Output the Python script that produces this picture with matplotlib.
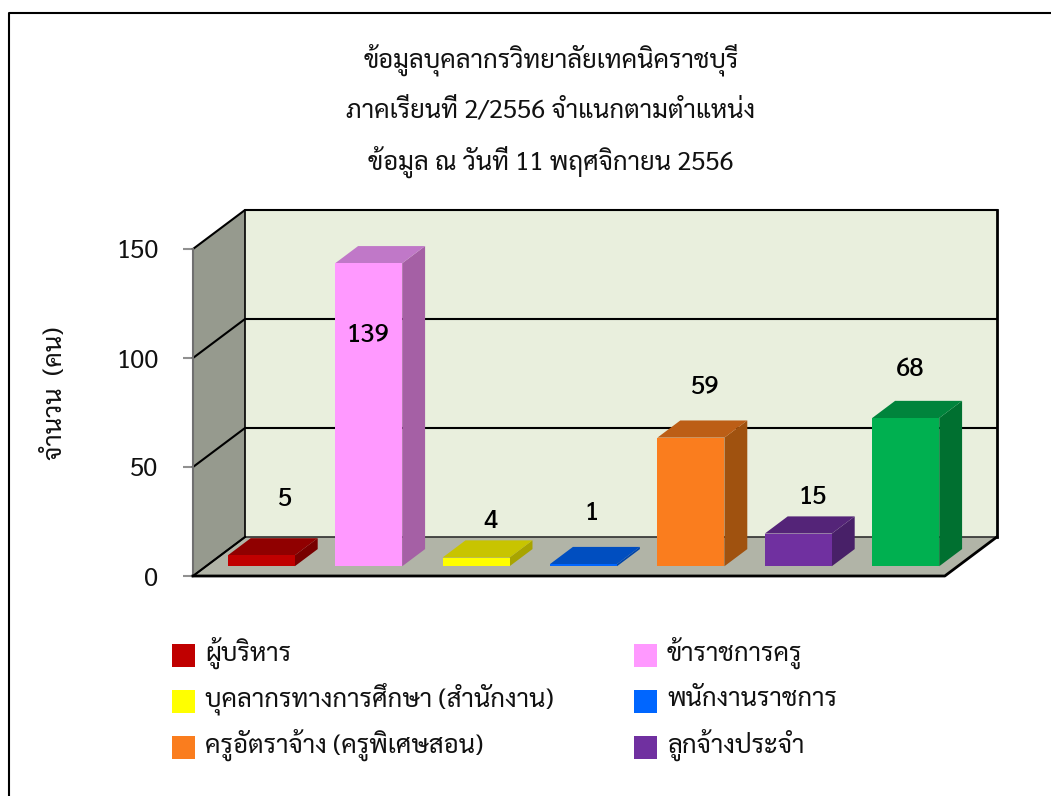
import matplotlib
matplotlib.use("Agg")
import matplotlib.pyplot as plt
from matplotlib.patches import Polygon, Rectangle
from matplotlib.lines import Line2D

plt.rcParams['font.family'] = ['Sarabun', 'DejaVu Sans']

title_lines = ["ข้อมูลบุคลากรวิทยาลัยเทคนิคราชบุรี",
               "ภาคเรียนที่ 2/2556 จำแนกตามตำแหน่ง",
               "ข้อมูล ณ วันที่ 11 พฤศจิกายน 2556"]
legend_labels = ["ผู้บริหาร", "ข้าราชการครู", "บุคลากรทางการศึกษา (สำนักงาน)", "พนักงานราชการ",
                 "ครูอัตราจ้าง (ครูพิเศษสอน)", "ลูกจ้างประจำ"]
values = [5, 139, 4, 1, 59, 15, 68]
front_colors = ["#c00000", "#ff99ff", "#ffff00", "#0066ff", "#fa7d1e", "#7030a0", "#00b050"]
top_colors = ["#900000", "#c078c8", "#c8c400", "#004ec0", "#bc5e16", "#542478", "#00843c"]
side_colors = ["#780000", "#a560a5", "#a8a400", "#0044a8", "#a0520f", "#482068", "#007030"]
y_ticks = [0, 50, 100, 150]
y_label = "จำนวน  (คน)"

W, H = 1051, 796
CAT_PX = 107.4
VAL_PX = 327 / 150
# depth of the box, in data units
DX = 52 / CAT_PX
DY = 39 / VAL_PX


def px(x, y):
    return x / W, 1 - y / H


fig = plt.figure(figsize=(W / 100, H / 100), dpi=100)
ax = fig.add_axes([193 / W, 1 - 576 / H, 804 / W, 366 / H])
ax.set_xlim(0, 804 / CAT_PX)
ax.set_ylim(0, 366 / VAL_PX)
ax.patch.set_visible(False)
for s in ax.spines.values():
    s.set_visible(False)
ax.set_xticks([])

n = len(values)
top = y_ticks[-1]

# walls and floor
ax.add_patch(Polygon([(0, 0), (DX, DY), (DX, top + DY), (0, top)], fc="#969a8e", ec="none"))
ax.add_patch(Polygon([(DX, DY), (n + DX, DY), (n + DX, top + DY), (DX, top + DY)], fc="#e9efdd", ec="none"))
ax.add_patch(Polygon([(0, 0), (n, 0), (n + DX, DY), (DX, DY)], fc="#b1b4a7", ec="none"))

# gridlines
for v in y_ticks[1:]:
    ax.plot([0, DX, n + DX], [v, v + DY, v + DY], color="black", lw=1.5, clip_on=False)
ax.plot([0, DX, n + DX], [0, DY, DY], color="#303030", lw=1.2, clip_on=False)
ax.plot([DX, DX], [DY, top + DY], color="black", lw=1.2, clip_on=False)
ax.plot([n + DX, n + DX], [DY, top + DY], color="black", lw=2, clip_on=False)
ax.plot([0, 0], [0, top], color="#707070", lw=1.5, clip_on=False)
ax.plot([0, n, n + DX], [0, 0, DY], color="black", lw=2, clip_on=False)
ax.plot([0, DX], [0, DY], color="black", lw=1.5, clip_on=False)

# bars
bar_w = 67 / CAT_PX
front = 0.25
back = 0.69
for i, v in enumerate(values):
    x0 = i + 0.5 - bar_w / 2 + front * DX + 0.015
    x1 = x0 + bar_w
    y0 = front * DY
    y1 = y0 + v
    ddx = (back - front) * DX
    ddy = (back - front) * DY
    ax.add_patch(Polygon([(x1, y0), (x1 + ddx, y0 + ddy), (x1 + ddx, y1 + ddy), (x1, y1)],
                         fc=side_colors[i], ec="none", zorder=3))
    ax.add_patch(Polygon([(x0, y1), (x1, y1), (x1 + ddx, y1 + ddy), (x0 + ddx, y1 + ddy)],
                         fc=top_colors[i], ec="none", zorder=3))
    ax.add_patch(Rectangle((x0, y0), bar_w, v, fc=front_colors[i], ec="none", zorder=3))

# y axis ticks
ax.set_yticks(y_ticks)
ax.tick_params(axis="y", length=7, width=1.5, color="#909090", labelsize=18.5, pad=18, labelcolor="#111111")
fig.text(*px(56, 393), y_label, rotation=90, ha="center", va="center", fontsize=18.5, color="#111111")

# data labels sit at hand-read spots
label_px = [(285, 499), (368, 335), (490, 521), (591, 513), (705, 387), (813, 498), (910, 370)]
for v, (lx, ly) in zip(values, label_px):
    fig.text(*px(lx, ly), str(v), ha="center", va="center", fontsize=18.5, fontweight="medium", color="black")

# title
for line, ty in zip(title_lines, [60, 111, 162]):
    fig.text(*px(551, ty), line, ha="center", va="center", fontsize=18.5, color="#111111")

# legend
legend_px = [(172, 655), (634, 655), (172, 701), (634, 701), (172, 747), (634, 747)]
for label, color, (lx, ly) in zip(legend_labels, front_colors, legend_px):
    fig.patches.append(Rectangle(px(lx, ly + 11.5), 23 / W, 23 / H, transform=fig.transFigure,
                                 fc=color, ec="none"))
    fig.text(*px(lx + 33, ly - 2), label, ha="left", va="center", fontsize=18.5, color="#111111")

# outer frame, only top and left show
fig.add_artist(Line2D([8.5 / W, 8.5 / W, 1], [0, 1 - 13 / H, 1 - 13 / H], color="black", lw=1.5,
                      transform=fig.transFigure))

plt.savefig("out.png", dpi=100)
